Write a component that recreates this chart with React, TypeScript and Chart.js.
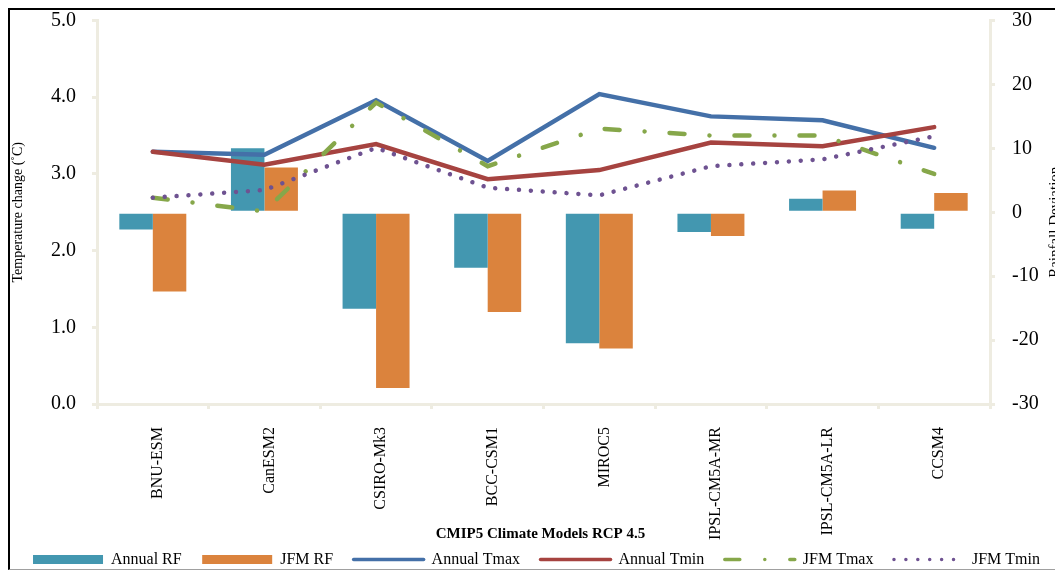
import React, { useEffect, useRef } from 'react';
import { Chart, registerables } from 'chart.js';

Chart.register(...registerables);

const categories = ['BNU-ESM', 'CanESM2', 'CSIRO-Mk3', 'BCC-CSM1', 'MIROC5', 'IPSL-CM5A-MR', 'IPSL-CM5A-LR', 'CCSM4'];
const annualRF = [-2.7, 10.0, -15.1, -8.7, -20.5, -3.1, 2.1, -2.6];
const jfmRF = [-12.4, 7.0, -27.5, -15.6, -21.3, -3.7, 3.4, 3.0];
const annualTmax = [3.29, 3.25, 3.96, 3.17, 4.04, 3.75, 3.7, 3.34];
const annualTmin = [3.29, 3.12, 3.39, 2.93, 3.05, 3.41, 3.36, 3.61];
const jfmTmax = [2.69, 2.51, 3.93, 3.1, 3.59, 3.5, 3.5, 3.0];
const jfmTmin = [2.69, 2.79, 3.34, 2.82, 2.72, 3.1, 3.19, 3.49];

const tempRange = { min: 0, max: 5, step: 1 };
const rainRange = { min: -30, max: 30, step: 10 };

const xTitle = 'CMIP5 Climate Models RCP 4.5';
const leftTitle = 'Temperature change (˚C)';
const rightTitle = 'Rainfall Deviation';

const FONT = "'Liberation Serif', 'Times New Roman', Times, serif";
const AXIS = '#EEECE1';
const C_TEAL = '#4397B0';
const C_ORANGE = '#DB833D';
const C_BLUE = '#4470A8';
const C_RED = '#A64340';
const C_GREEN = '#86A74A';
const C_PURPLE = '#6E5291';

const LEGEND_PAD = 20.5;

const titlesPlugin = {
  id: 'extraTitles',
  afterDraw(chart: any) {
    const { ctx, chartArea } = chart;
    ctx.save();
    ctx.fillStyle = '#000';
    ctx.textAlign = 'center';
    ctx.textBaseline = 'middle';
    ctx.font = `bold 15px ${FONT}`;
    ctx.fillText(xTitle, (chartArea.left + chartArea.right) / 2 - 3, chartArea.bottom + 130.5);
    ctx.font = `15px ${FONT}`;
    ctx.translate(chart.width - 7.5, (chartArea.top + chartArea.bottom) / 2 + 10);
    ctx.rotate(-Math.PI / 2);
    ctx.fillText(rightTitle, 0, 0);
    ctx.restore();
  },
};

function axisGrid() {
  return {
    display: true,
    drawOnChartArea: false,
    drawTicks: true,
    tickLength: 5,
    tickColor: AXIS,
    tickWidth: 3,
    color: AXIS,
    lineWidth: 3,
  };
}

export default function App() {
  const ref = useRef<HTMLCanvasElement | null>(null);

  useEffect(() => {
    if (!ref.current) return;
    const lineDs = (label: string, data: number[], color: string, order: number, dash: number[] = []) => ({
      type: 'line' as const,
      label,
      data,
      yAxisID: 'y',
      borderColor: color,
      backgroundColor: color,
      borderWidth: 4.5,
      borderDash: dash,
      borderCapStyle: 'round' as const,
      borderJoinStyle: 'miter' as const,
      pointRadius: 0,
      pointHoverRadius: 0,
      tension: 0,
      fill: false,
      order,
    });

    const chart = new Chart(ref.current, {
      type: 'bar',
      data: {
        labels: categories,
        datasets: [
          {
            type: 'bar',
            label: 'Annual RF',
            data: annualRF,
            yAxisID: 'y1',
            backgroundColor: C_TEAL,
            borderWidth: 0,
            categoryPercentage: 0.6,
            barPercentage: 1.0,
            order: 10,
          },
          {
            type: 'bar',
            label: 'JFM RF',
            data: jfmRF,
            yAxisID: 'y1',
            backgroundColor: C_ORANGE,
            borderWidth: 0,
            categoryPercentage: 0.6,
            barPercentage: 1.0,
            order: 10,
          },
          lineDs('Annual Tmax', annualTmax, C_BLUE, 4),
          lineDs('Annual Tmin', annualTmin, C_RED, 3),
          lineDs('JFM Tmax', jfmTmax, C_GREEN, 2, [15, 25, 0.01, 25]),
          lineDs('JFM Tmin', jfmTmin, C_PURPLE, 1, [0.01, 11.9]),
        ] as any,
      },
      options: {
        responsive: false,
        animation: false,
        layout: { padding: { top: 0, left: 0, right: 0, bottom: -8.5 } },
        plugins: {
          tooltip: { enabled: false },
          legend: {
            position: 'bottom',
            labels: {
              font: { family: FONT, size: 16 },
              color: '#000',
              boxWidth: 70,
              boxHeight: 9,
              padding: LEGEND_PAD,
              usePointStyle: true,
              pointStyleWidth: 70,
              sort: (a: any, b: any) => a.datasetIndex - b.datasetIndex,
              generateLabels(c: any) {
                const items = (Chart.defaults.plugins.legend.labels as any).generateLabels(c);
                items.forEach((it: any) => {
                  const ds: any = c.data.datasets[it.datasetIndex];
                  if (ds.type === 'line') {
                    it.pointStyle = 'line';
                    it.strokeStyle = ds.borderColor;
                    it.fillStyle = ds.borderColor;
                    it.lineWidth = 3.5;
                    it.lineDash = ds.borderDash || [];
                    it.lineCap = 'round';
                  } else {
                    it.pointStyle = 'rect';
                    it.fillStyle = ds.backgroundColor;
                    it.strokeStyle = ds.backgroundColor;
                    it.lineWidth = 0;
                    it.lineDash = [];
                  }
                });
                return items;
              },
            },
          },
        },
        scales: {
          x: {
            type: 'category',
            offset: true,
            grid: { ...axisGrid(), offset: true },
            border: { display: true, color: AXIS, width: 3 },
            ticks: {
              color: '#000',
              font: { family: FONT, size: 16 },
              minRotation: 90,
              maxRotation: 90,
              autoSkip: false,
              padding: 18,
              labelOffset: 5,
            },
            afterFit(s: any) {
              s.height = 147.5 - LEGEND_PAD;
              s.paddingLeft = 0;
              s.paddingRight = 0;
              // let the long rotated labels run past the box, as in the original
              s._computeLabelArea = () => undefined;
            },
          },
          y: {
            type: 'linear',
            position: 'left',
            min: tempRange.min,
            max: tempRange.max,
            grid: axisGrid(),
            border: { display: true, color: AXIS, width: 3 },
            ticks: {
              stepSize: tempRange.step,
              color: '#000',
              font: { family: FONT, size: 20 },
              padding: 16,
              callback: (v: any) => Number(v).toFixed(1),
            },
            title: {
              display: true,
              text: leftTitle,
              color: '#000',
              font: { family: FONT, size: 14 },
              padding: 0,
            },
            afterFit(s: any) {
              s.width = 87;
              s.paddingTop = 10.5;
              s.paddingBottom = 0;
            },
          },
          y1: {
            type: 'linear',
            position: 'right',
            min: rainRange.min,
            max: rainRange.max,
            grid: axisGrid(),
            border: { display: true, color: AXIS, width: 3 },
            ticks: {
              stepSize: rainRange.step,
              color: '#000',
              font: { family: FONT, size: 20 },
              padding: 17,
            },
            afterFit(s: any) {
              s.width = 73;
              s.paddingTop = 10.5;
              s.paddingBottom = 0;
            },
          },
        },
      } as any,
      plugins: [titlesPlugin],
    });
    return () => chart.destroy();
  }, []);

  return (
    <div
      style={{
        width: 1055,
        height: 562,
        boxSizing: 'border-box',
        borderLeft: '2px solid #000',
        borderTop: '2px solid #000',
        borderBottom: '1px solid #a0a0a0',
        background: '#fff',
      }}
    >
      <canvas ref={ref} width={1053} height={559} style={{ display: 'block' }} />
    </div>
  );
}
